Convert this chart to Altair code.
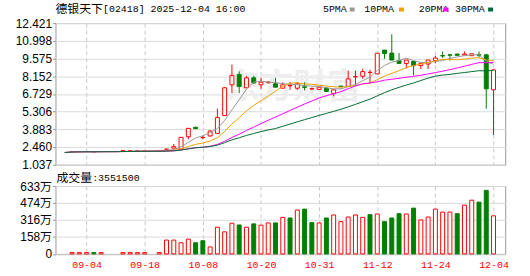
import json
import altair as alt
import pandas as pd

stock_name = "德银天下"
stock_info = "[02418] 2025-12-04 16:00"
vol_title = "成交量"

dates = ["09-01", "09-02", "09-03", "09-04", "09-05", "09-08", "09-09", "09-10", "09-11", "09-12", "09-15",
         "09-18", "09-19", "09-22", "09-23", "09-24", "09-25", "10-03", "10-06", "10-08", "10-09",
         "10-10", "10-13", "10-14", "10-15", "10-16", "10-17", "10-20", "10-21", "10-22", "10-23",
         "10-24", "10-27", "10-28", "10-30", "10-31", "11-03", "11-04", "11-05", "11-06", "11-07",
         "11-10", "11-11", "11-12", "11-13", "11-14", "11-17", "11-18", "11-19", "11-20", "11-21",
         "11-24", "11-25", "11-26", "11-27", "11-28", "12-01", "12-02", "12-03", "12-04"]

opens = [2.02, 2.10, 2.10, 2.10, 2.08, 2.10, 2.10, 2.10, 2.17, 2.17, 2.17,
         2.17, 2.17, 2.17, 2.28, 2.37, 2.29, 3.29, 4.04, 3.21, 3.35,
         3.56, 4.99, 7.46, 8.28, 7.22, 8.02, 7.46, 7.63, 7.54, 7.19,
         7.38, 7.19, 7.30, 7.13, 7.09, 7.19, 6.75, 7.36, 7.33, 8.10,
         8.15, 8.45, 8.34, 10.25, 10.01, 9.40, 9.18, 9.34, 9.00, 9.13,
         9.40, 9.81, 9.87, 9.93, 9.85, 9.80, 9.87, 9.87, 7.06]
highs = [2.02, 2.10, 2.10, 2.10, 2.08, 2.10, 2.10, 2.10, 2.17, 2.17, 2.17,
         2.17, 2.17, 2.17, 2.29, 2.71, 3.24, 3.96, 4.10, 3.35, 3.80,
         5.55, 7.30, 9.08, 8.54, 8.18, 8.18, 8.02, 7.75, 8.02, 7.67,
         7.70, 7.66, 7.67, 7.25, 7.27, 7.30, 7.06, 7.36, 8.60, 8.60,
         8.74, 8.68, 10.00, 10.25, 11.52, 10.01, 9.45, 9.34, 9.26, 9.45,
         9.79, 10.14, 9.93, 9.95, 10.14, 9.95, 10.14, 9.95, 8.66]
lows = [2.02, 2.10, 2.10, 2.10, 2.08, 2.10, 2.10, 2.10, 2.17, 2.17, 2.17,
        2.17, 2.17, 2.17, 2.28, 2.37, 2.29, 3.08, 3.90, 3.08, 3.30,
        3.56, 4.99, 6.79, 6.79, 7.22, 7.54, 7.14, 7.55, 7.27, 7.19,
        7.06, 7.06, 7.01, 7.06, 7.09, 6.90, 6.53, 7.32, 7.33, 7.41,
        7.94, 7.57, 8.34, 9.55, 9.45, 9.13, 8.78, 8.21, 8.73, 8.73,
        9.18, 9.61, 9.40, 9.83, 9.85, 9.80, 9.66, 5.55, 3.43]
closes = [2.02, 2.10, 2.10, 2.10, 2.08, 2.10, 2.10, 2.10, 2.17, 2.17, 2.17,
          2.17, 2.17, 2.17, 2.29, 2.49, 3.24, 3.96, 3.94, 3.23, 3.74,
          4.83, 7.22, 8.20, 7.33, 8.02, 7.62, 7.67, 7.68, 7.27, 7.46,
          7.40, 7.54, 7.26, 7.15, 7.27, 6.93, 7.06, 7.32, 7.94, 8.12,
          8.52, 8.47, 10.00, 9.97, 9.45, 9.18, 9.45, 9.00, 9.18, 9.45,
          9.61, 9.78, 9.84, 9.83, 9.94, 9.95, 9.84, 7.14, 8.66]
volumes = [0, 120000, 120000, 120000, 120000, 120000, 0, 0, 120000, 120000, 120000,
           120000, 0, 120000, 1290000, 1290000, 1040000, 1380000, 1040000, 1230000, 650000,
           2490000, 2060000, 2860000, 2700000, 2490000, 2800000, 2680000, 2890000, 2890000, 3410000,
           3350000, 4090000, 4180000, 2920000, 2890000, 3350000, 3630000, 3010000, 3440000, 3630000,
           3410000, 3660000, 3720000, 3010000, 3350000, 3750000, 3720000, 4270000, 3170000, 3440000,
           4180000, 3900000, 3900000, 3750000, 4550000, 5010000, 4830000, 5930000, 3551500]

tick_dates = ["09-04", "09-18", "10-08", "10-20", "10-31", "11-12", "11-24", "12-04"]
price_ticks = [1.037, 2.460, 3.883, 5.306, 6.729, 8.152, 9.575, 10.998, 12.421]
vol_ticks = [0, 1582500, 3165000, 4747500, 6330000]
ma_windows = [5, 10, 20, 30]

RED = "#ff0000"
GREEN = "#008000"
ma_colors = {5: "#999999", 10: "#f0a000", 20: "#ff00ff", 30: "#006b35"}

df = pd.DataFrame({"i": list(range(len(dates))), "date": dates, "open": opens, "high": highs,
                   "low": lows, "close": closes, "volume": volumes})

tick_idx = [dates.index(d) for d in tick_dates]
label_expr = json.dumps(dates) + "[datum.value]"

W, H1, H2 = 454, 143, 68.5
xscale = alt.Scale(domain=[-0.6, 59.93], nice=False, zero=False)
x_top = alt.X("i:Q", scale=xscale, axis=alt.Axis(values=tick_idx, labels=False, ticks=False, domain=False,
                                                 grid=True, gridDash=[4, 3], gridColor="#c8c8c8", title=None))
x_bot = alt.X("i:Q", scale=xscale, axis=alt.Axis(values=tick_idx, labelExpr=label_expr, ticks=False, domain=False,
                                                 grid=True, gridDash=[4, 3], gridColor="#c8c8c8", title=None,
                                                 labelColor=RED, labelFont="Liberation Mono", labelFontSize=10,
                                                 labelPadding=6, labelOverlap=False))
pscale = alt.Scale(domain=[price_ticks[0], price_ticks[-1]], nice=False, zero=False)
paxis = alt.Axis(values=price_ticks, format=".3f", title=None, tickSize=3, tickColor="#999999",
                 labelFont="Liberation Sans", labelFontSize=12, labelColor="#000000", labelPadding=1,
                 grid=True, gridColor="#dadada", domain=False, labelOverlap=False)
vscale = alt.Scale(domain=[0, vol_ticks[-1]], nice=False)
vaxis = alt.Axis(values=vol_ticks, labelExpr="datum.value == 0 ? '0' : floor(datum.value / 10000) + '万'",
                 title=None, tickSize=3, tickColor="#999999", labelFont="Liberation Sans, Noto Sans CJK SC",
                 labelFontSize=12, labelColor="#000000", labelPadding=1, grid=True, gridColor="#dadada",
                 domain=False, labelOverlap=False)

base = alt.Chart(df)
up = "datum.close >= datum.open"

watermark = alt.Chart(pd.DataFrame({"t": ["东方财富"]})).mark_text(
    font="Noto Sans CJK SC", fontSize=34, fontWeight="bold", color="#eeeeee", align="center", baseline="middle"
).encode(text="t:N", x=alt.value(240), y=alt.value(66))

traded = base.transform_filter("datum.volume > 0")
wicks = traded.mark_rule(strokeWidth=1).encode(
    x=x_top, y=alt.Y("low:Q", scale=pscale, axis=paxis), y2="high:Q",
    color=alt.condition(up, alt.value(RED), alt.value(GREEN)))
bodies = traded.mark_bar(size=4, strokeWidth=1).encode(
    x=x_top, y=alt.Y("open:Q", scale=pscale, axis=paxis), y2="close:Q",
    fill=alt.condition(up, alt.value("#ffffff"), alt.value(GREEN)),
    stroke=alt.condition(up, alt.value(RED), alt.value(GREEN)))


def ma_layer(n):
    return base.transform_window(ma="mean(close)", frame=[-(n - 1), 0], sort=[alt.SortField("i")]).mark_line(
        color=ma_colors[n], strokeWidth=1).encode(x=x_top, y=alt.Y("ma:Q", scale=pscale, axis=paxis))


one = pd.DataFrame({"t": [""]})
title1 = alt.Chart(pd.DataFrame({"t": [stock_name]})).mark_text(
    font="Noto Sans CJK SC", fontSize=12, align="left", baseline="middle", color="#000000"
).encode(text="t:N", x=alt.value(0), y=alt.value(-14))
title2 = alt.Chart(pd.DataFrame({"t": [stock_info]})).mark_text(
    font="Liberation Mono", fontSize=10, align="left", baseline="middle", color="#000000"
).encode(text="t:N", x=alt.value(48), y=alt.value(-14))

legend_layers = []
label_x = {5: 270, 10: 311.7, 20: 366.7, 30: 403.3}
sq_x = {5: 297, 10: 346.7, 20: 391.7, 30: 436.7}
for n in ma_windows:
    legend_layers.append(alt.Chart(pd.DataFrame({"t": [f"{n}PMA"]})).mark_text(
        font="Liberation Mono", fontSize=10, align="left", baseline="middle", color="#000000"
    ).encode(text="t:N", x=alt.value(label_x[n]), y=alt.value(-13.7)))
    legend_layers.append(alt.Chart(one).mark_rect(color=ma_colors[n]).encode(
        x=alt.value(sq_x[n]), x2=alt.value(sq_x[n] + 5), y=alt.value(-15.7), y2=alt.value(-11.7)))

top = alt.layer(watermark, wicks, bodies, *[ma_layer(n) for n in ma_windows], title1, title2,
                *legend_layers).properties(width=W, height=H1)

vol_base = base.transform_filter("datum.volume > 0").transform_window(
    prev="lag(close)", sort=[alt.SortField("i")]).transform_calculate(
    vup="datum.prev == null || datum.close >= datum.prev")
vbars = vol_base.mark_bar(size=4, strokeWidth=1).encode(
    x=x_bot, y=alt.Y("volume:Q", scale=vscale, axis=vaxis),
    fill=alt.condition("datum.vup", alt.value("#ffffff"), alt.value(GREEN)),
    stroke=alt.condition("datum.vup", alt.value(RED), alt.value(GREEN)))
vt1 = alt.Chart(pd.DataFrame({"t": [vol_title]})).mark_text(
    font="Noto Sans CJK SC", fontSize=12, align="left", baseline="middle", color="#000000"
).encode(text="t:N", x=alt.value(1), y=alt.value(-8.5))
vt2 = alt.Chart(pd.DataFrame({"t": [":" + str(volumes[-1])]})).mark_text(
    font="Liberation Mono", fontSize=10, align="left", baseline="middle", color="#000000"
).encode(text="t:N", x=alt.value(37), y=alt.value(-8.5))

bottom = alt.layer(vbars, vt1, vt2).properties(width=W, height=H2)

chart = alt.vconcat(top, bottom, spacing=21.5, bounds="flush").properties(
    padding={"left": 14, "top": 1, "right": 21, "bottom": 4},
    background="#ffffff",
).configure_view(stroke="#999999", strokeWidth=1)

chart.save("out.html", embed_options={"renderer": "svg", "actions": False})
